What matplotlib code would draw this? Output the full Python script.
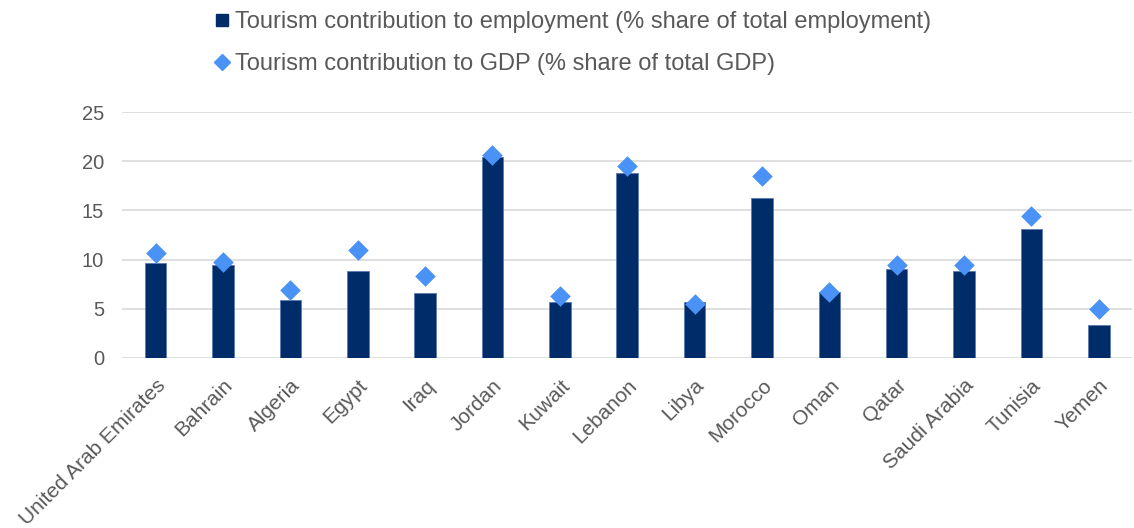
import matplotlib.pyplot as plt
from matplotlib.lines import Line2D

plt.rcParams["font.family"] = ["Liberation Sans", "DejaVu Sans"]

countries = ["United Arab Emirates", "Bahrain", "Algeria", "Egypt", "Iraq",
             "Jordan", "Kuwait", "Lebanon", "Libya", "Morocco", "Oman",
             "Qatar", "Saudi Arabia", "Tunisia", "Yemen"]
employment = [9.6, 9.4, 5.9, 8.8, 6.6, 20.4, 5.7, 18.8, 5.7, 16.3, 6.7,
              9.0, 8.8, 13.1, 3.3]
gdp = [10.7, 9.7, 6.9, 11.0, 8.3, 20.6, 6.3, 19.5, 5.5, 18.5, 6.7,
       9.4, 9.4, 14.4, 5.0]

bar_color = "#002d6a"
dot_color = "#4a92f5"
text_color = "#595959"

fig = plt.figure(figsize=(11.34, 5.28), dpi=100)
ax = fig.add_axes([0.1076, 0.3225, 0.891, 0.4648])

x = range(len(countries))
ax.bar(x, employment, width=0.32, color=bar_color, edgecolor="#5a7bb0",
       linewidth=0.6, zorder=2)
ax.scatter(x, gdp, marker="D", s=110, color=dot_color, zorder=3,
           linewidths=0)

ax.set_xlim(-0.5, len(countries) - 0.5)
ax.set_ylim(0, 25)
ax.set_yticks([0, 5, 10, 15, 20, 25])
ax.yaxis.grid(True, color="#d9d9d9", linewidth=1.2, zorder=0)
ax.set_axisbelow(True)
for s in ax.spines.values():
    s.set_visible(False)
ax.tick_params(axis="both", length=0, colors=text_color)
ax.tick_params(axis="y", pad=13, labelsize=14.5)
ax.set_xticks(list(x))
ax.set_xticklabels(countries, rotation=45, ha="right", rotation_mode="anchor")
ax.tick_params(axis="x", pad=13, labelsize=15)

# legend sits above the plot, left-aligned with the second bar
handles = [
    Line2D([], [], marker="s", linestyle="none", color=bar_color, markersize=9),
    Line2D([], [], marker="D", linestyle="none", color=dot_color, markersize=8),
]
labels = ["Tourism contribution to employment (% share of total employment)",
          "Tourism contribution to GDP (% share of total GDP)"]
fig.legend(handles, labels, loc="upper left", bbox_to_anchor=(0.1887, 0.979),
           frameon=False, fontsize=17, labelcolor=text_color,
           handlelength=0.7, handletextpad=0.2, labelspacing=0.85,
           borderpad=0, borderaxespad=0)

fig.savefig("out.png", dpi=100)
